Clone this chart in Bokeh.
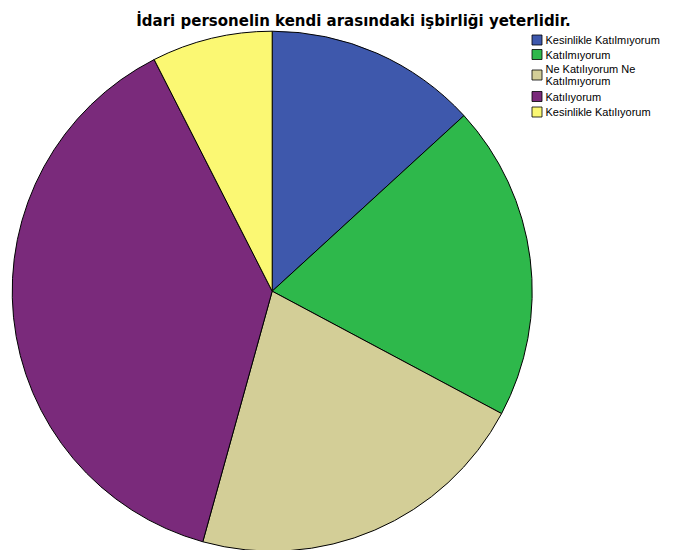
import math
from bokeh.plotting import figure
from bokeh.models import Range1d, ColumnDataSource
from bokeh.core.properties import value
from bokeh.embed import file_html
from bokeh.resources import INLINE

title_text = "İdari personelin kendi arasındaki işbirliği yeterlidir."
categories = ["Kesinlikle Katılmıyorum", "Katılmıyorum", "Ne Katılıyorum Ne\nKatılmıyorum",
              "Katılıyorum", "Kesinlikle Katılıyorum"]
percents = [13.2, 19.6, 21.5, 38.2, 7.5]
colors = ["#3E58AC", "#2EB84B", "#D3CE97", "#7A2A7B", "#FBF873"]

W, H = 674, 550
# screen-pixel coordinate system (y up = 550 - screen y)
p = figure(width=W, height=H, output_backend="svg", toolbar_location=None,
           x_range=Range1d(0, W), y_range=Range1d(0, H),
           x_axis_location=None, y_axis_location=None, min_border=0)
p.outline_line_color = None
p.xgrid.visible = False
p.ygrid.visible = False
p.background_fill_color = "white"
p.border_fill_color = "white"

total = sum(percents)
starts, ends = [], []
cum = 0.0
for v in percents:
    starts.append(math.pi / 2 - 2 * math.pi * cum / total)
    cum += v
    ends.append(math.pi / 2 - 2 * math.pi * cum / total)

cx, cy, r = 271.7, 550 - 290.7, 260
src = ColumnDataSource(dict(start=starts, end=ends, color=colors))
p.wedge(x=cx, y=cy, radius=r, start_angle="start", end_angle="end", direction="clock",
        fill_color="color", line_color="black", line_width=1, source=src)

# title
p.text(x=[353], y=[550 - 20], text=[title_text], text_align="center",
       text_baseline="alphabetic", text_font=value("DejaVu Sans"),
       text_font_style="bold", text_font_size="15px", text_color="black")

# legend
leg_y = [39.5, 54, 74.5, 96, 111.5]
ly = [550 - v for v in leg_y]
p.rect(x=[536.5] * len(ly), y=ly, width=10, height=10, fill_color=colors,
       line_color="black", line_width=0.8)
p.text(x=[545] * len(ly), y=ly, text=categories, text_align="left",
       text_baseline="middle", text_font=value("Liberation Sans"),
       text_font_size="11px", text_color="black", text_line_height=1.0)

open("out.html", "w").write(file_html(p, INLINE))
